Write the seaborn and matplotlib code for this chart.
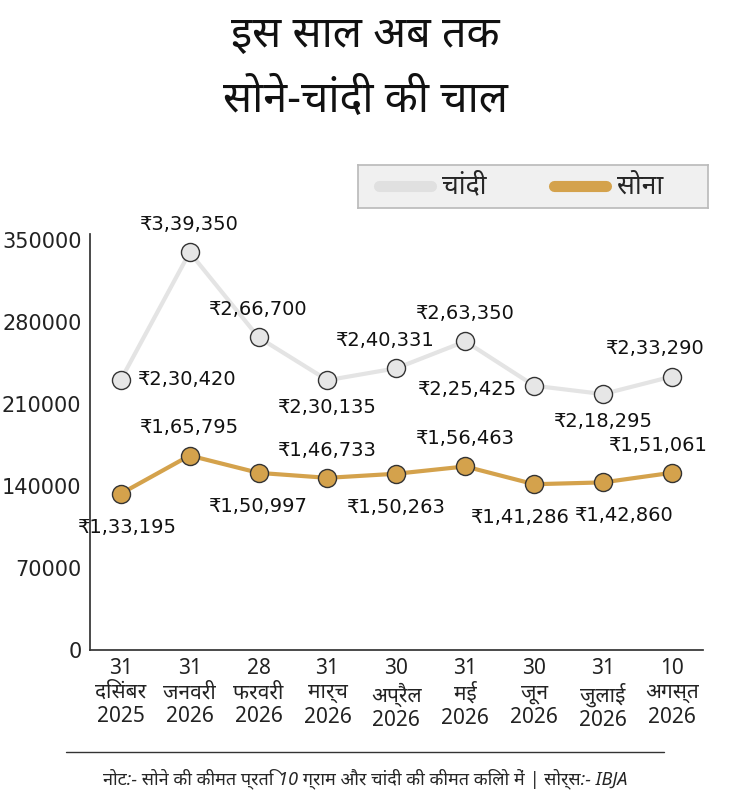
import matplotlib
matplotlib.use('Agg')
import matplotlib.pyplot as plt
import seaborn as sns
import pandas as pd

sns.set_theme(style='white')
plt.rcParams['font.family'] = ['Noto Sans', 'DejaVu Sans']

dates = ['31\nदिसंबर\n2025', '31\nजनवरी\n2026', '28\nफरवरी\n2026', '31\nमार्च\n2026',
         '30\nअप्रैल\n2026', '31\nमई\n2026', '30\nजून\n2026', '31\nजुलाई\n2026', '10\nअगस्त\n2026']
silver = [230420, 339350, 266700, 230135, 240331, 263350, 225425, 218295, 233290]
gold = [133195, 165795, 150997, 146733, 150263, 156463, 141286, 142860, 151061]
silver_txt = ['₹2,30,420', '₹3,39,350', '₹2,66,700', '₹2,30,135', '₹2,40,331', '₹2,63,350', '₹2,25,425', '₹2,18,295', '₹2,33,290']
gold_txt = ['₹1,33,195', '₹1,65,795', '₹1,50,997', '₹1,46,733', '₹1,50,263', '₹1,56,463', '₹1,41,286', '₹1,42,860', '₹1,51,061']

df = pd.DataFrame({'x': range(len(dates)), 'silver': silver, 'gold': gold})

fig = plt.figure(figsize=(7.30, 8.07), dpi=100)
ax = fig.add_axes([0.123, 0.195, 0.84, 0.515])

sns.lineplot(data=df, x='x', y='silver', ax=ax, color='#e4e4e4', lw=3, marker='o',
             markersize=13, markerfacecolor='#e6e6e6', markeredgecolor='#333333', markeredgewidth=1)
sns.lineplot(data=df, x='x', y='gold', ax=ax, color='#d4a24c', lw=3, marker='o',
             markersize=13, markerfacecolor='#d4a24c', markeredgecolor='#333333', markeredgewidth=1)

# label offsets (dx, dy) in points
s_off = [(48, 0), (0, 20), (0, 20), (0, -20), (-8, 20), (0, 20), (-48, -3), (0, -20), (-12, 20)]
g_off = [(5, -24), (0, 20), (0, -24), (0, 20), (0, -24), (0, 20), (-10, -24), (15, -24), (-10, 20)]
lab_kw = dict(textcoords='offset points', ha='center', va='center', fontsize=14,
              color='#111111', family=['Liberation Sans Narrow', 'DejaVu Sans Condensed', 'DejaVu Sans'])
for i in range(len(dates)):
    ax.annotate(silver_txt[i], (i, silver[i]), xytext=s_off[i], **lab_kw)
    ax.annotate(gold_txt[i], (i, gold[i]), xytext=g_off[i], **lab_kw)

ax.set_xlim(-0.45, 8.45)
ax.set_ylim(0, 355000)
ax.set_yticks(range(0, 350001, 70000))
ax.set_yticklabels([str(v) for v in range(0, 350001, 70000)], fontsize=15,
                   family=['DejaVu Sans Condensed', 'DejaVu Sans'], color='#222222')
ax.set_xticks(range(len(dates)))
ax.set_xticklabels(dates, fontsize=15, color='#222222')
ax.set_xlabel('')
ax.set_ylabel('')
for s in ['top', 'right']:
    ax.spines[s].set_visible(False)
ax.spines['left'].set_color('#333333')
ax.spines['bottom'].set_color('#333333')
ax.tick_params(axis='both', length=0, pad=6)

fig.text(0.5, 0.955, 'इस साल अब तक', ha='center', va='center', fontsize=31, weight='bold', color='#111111')
fig.text(0.5, 0.875, 'सोने-चांदी की चाल', ha='center', va='center', fontsize=31, weight='bold', color='#111111')

# legend box
lg = fig.add_axes([0.49, 0.742, 0.48, 0.054])
lg.set_xlim(0, 1); lg.set_ylim(0, 1)
lg.set_facecolor('#f0f0f0')
for s in lg.spines.values():
    s.set_color('#bbbbbb')
lg.set_xticks([]); lg.set_yticks([])
lg.plot([0.06, 0.21], [0.5, 0.5], color='#e0e0e0', lw=8)
lg.text(0.24, 0.5, 'चांदी', va='center', fontsize=19)
lg.plot([0.56, 0.71], [0.5, 0.5], color='#d4a24c', lw=8)
lg.text(0.74, 0.5, 'सोना', va='center', fontsize=19)

fig.add_artist(plt.Line2D([0.09, 0.91], [0.068, 0.068], color='#333333', lw=1))
fig.text(0.5, 0.035, 'नोट:- सोने की कीमत प्रति 10 ग्राम और चांदी की कीमत किलो में | सोर्स:- IBJA',
         ha='center', va='center', fontsize=13, style='italic')

fig.savefig('out.png', dpi=100, facecolor='white')
